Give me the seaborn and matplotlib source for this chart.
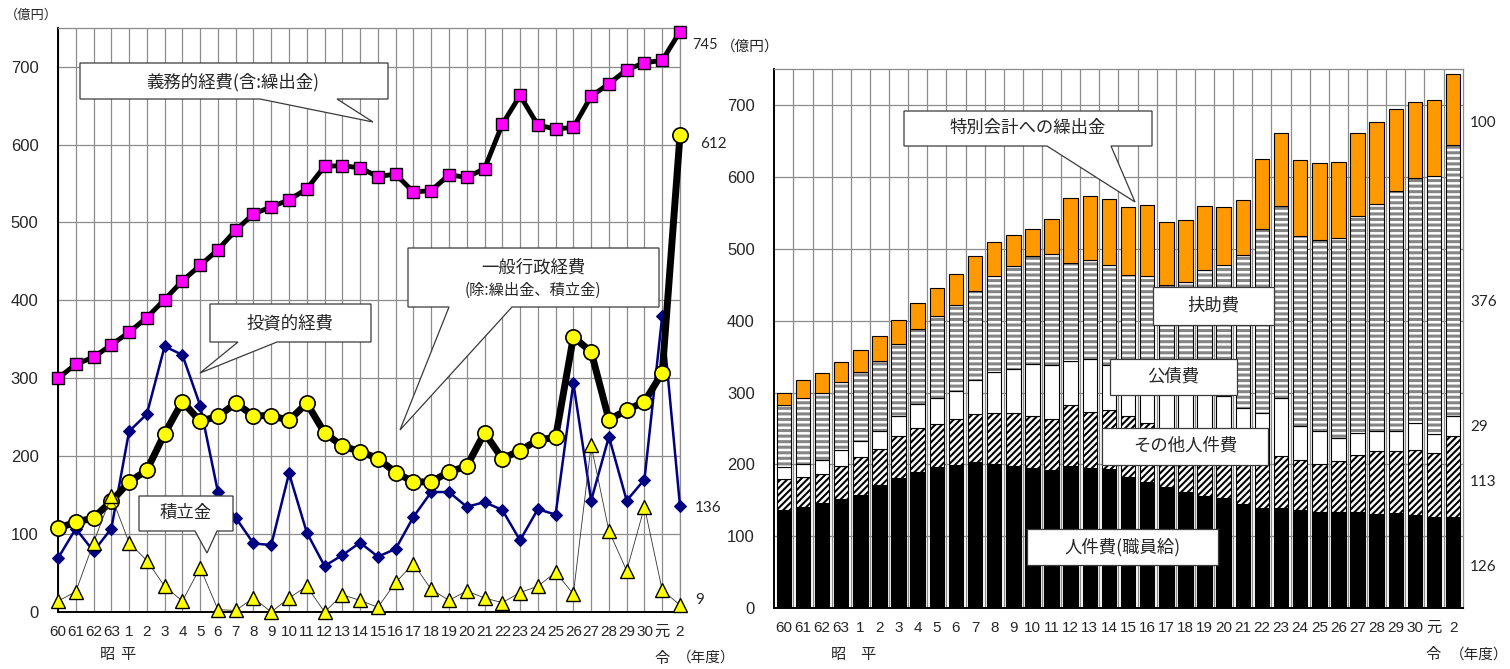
import numpy as np
import pandas as pd
import matplotlib
matplotlib.use("Agg")
import matplotlib.pyplot as plt
import seaborn as sns
from matplotlib.patches import Polygon

# 年度ラベル（昭和60～令和2）
years = ["60", "61", "62", "63"] + [str(i) for i in range(1, 31)] + ["元", "2"]

# 左：性質別歳出の推移（億円）
gimu = [300, 318, 327, 343, 359, 378, 401, 425, 445, 465, 490, 511, 520, 529, 543, 572, 573, 570, 559,
        562, 539, 541, 561, 558, 569, 626, 663, 625, 620, 622, 662, 678, 696, 705, 708, 745]
ippan = [108, 115, 121, 142, 167, 182, 229, 270, 245, 251, 268, 252, 252, 246, 268, 230, 213, 206, 197,
         179, 167, 167, 180, 187, 230, 197, 207, 221, 224, 353, 334, 247, 259, 270, 307, 612]
toushi = [69, 107, 78, 107, 232, 254, 341, 330, 265, 154, 121, 88, 86, 178, 102, 59, 73, 89, 71,
          81, 122, 154, 154, 135, 141, 131, 92, 132, 125, 294, 143, 225, 143, 170, 380, 136]
tsumitate = [14, 26, 89, 149, 89, 66, 33, 14, 57, 3, 2, 18, 0, 18, 33, 0, 22, 15, 6,
             38, 62, 29, 15, 27, 18, 12, 25, 33, 51, 23, 214, 104, 53, 135, 28, 9]

# 右：義務的経費の内訳（億円）
kyuyo = [136, 141, 146, 152, 158, 171, 181, 189, 196, 199, 203, 200, 198, 195, 192, 198, 195, 193, 183,
         176, 169, 162, 156, 153, 145, 139, 139, 136, 133, 133, 133, 131, 132, 129, 126, 126]
sonota = [43, 42, 40, 46, 52, 51, 59, 61, 60, 64, 67, 71, 73, 73, 71, 84, 78, 83, 84,
          81, 78, 80, 80, 78, 75, 74, 72, 70, 68, 71, 80, 87, 87, 91, 90, 113]
kousai = [17, 18, 20, 22, 22, 25, 27, 34, 37, 39, 47, 58, 62, 72, 75, 62, 73, 63, 63,
          65, 68, 66, 64, 64, 59, 59, 82, 47, 45, 32, 31, 28, 27, 37, 26, 29]
fujo = [87, 92, 93, 94, 96, 97, 101, 105, 113, 120, 124, 133, 143, 150, 155, 137, 139, 138, 134,
        140, 135, 146, 171, 182, 213, 256, 267, 265, 267, 279, 302, 317, 335, 341, 360, 376]
kuridashi = [17, 25, 28, 29, 31, 34, 33, 36, 39, 43, 49, 48, 44, 38, 49, 90, 88, 92, 94,
             99, 88, 86, 89, 81, 76, 97, 102, 106, 106, 106, 115, 114, 114, 106, 105, 100]

W, H = 1510, 669
CJK = ["Noto Sans CJK JP", "DejaVu Sans"]
NUM = ["Liberation Sans", "Noto Sans CJK JP", "DejaVu Sans"]
LBL = ["Lato", "Noto Sans CJK JP", "DejaVu Sans"]

sns.set_style("white")
plt.rcParams["font.family"] = NUM


def fx(px):
    return px / W


def fy(py):
    return 1 - py / H


def callout(fig, pts):
    poly = Polygon([(fx(x), fy(y)) for x, y in pts], closed=True, transform=fig.transFigure,
                   facecolor="white", edgecolor="#3a3a3a", lw=0.9, zorder=5)
    fig.add_artist(poly)


def note(fig, x, y, s, size=12.5, family=CJK, ha="center", va="center"):
    fig.text(fx(x), fy(y), s, ha=ha, va=va, fontsize=size, family=family, zorder=6)


df = pd.DataFrame({"idx": np.arange(len(years)), "gimu": gimu, "ippan": ippan,
                   "toushi": toushi, "tsumitate": tsumitate})

fig = plt.figure(figsize=(W / 100, H / 100), dpi=100)
ax1 = fig.add_axes([fx(58), fy(612), 622 / W, 584.3 / H])
ax2 = fig.add_axes([fx(774.3), fy(608), 688.4 / W, 538.7 / H])

grid_c = "#8c8c8c"

# ---- 左グラフ ----
sns.lineplot(data=df, x="idx", y="toushi", ax=ax1, color="#000080", lw=1.8, marker="D", markersize=6.5,
             markeredgecolor="#000080", clip_on=False, zorder=3)
sns.lineplot(data=df, x="idx", y="ippan", ax=ax1, color="black", lw=5, marker="o", markersize=11,
             markerfacecolor="#FFFF00", markeredgecolor="black", markeredgewidth=1.2, clip_on=False, zorder=4)
sns.lineplot(data=df, x="idx", y="tsumitate", ax=ax1, color="#333333", lw=0.6, marker="^", markersize=9.5,
             markerfacecolor="#FFFF00", markeredgecolor="black", markeredgewidth=1.0, clip_on=False, zorder=5)
sns.lineplot(data=df, x="idx", y="gimu", ax=ax1, color="black", lw=3.5, marker="s", markersize=8.5,
             markerfacecolor="#FF00FF", markeredgecolor="black", markeredgewidth=1.0, clip_on=False, zorder=6)

ax1.set_xlim(0, len(years) - 1)
ax1.set_ylim(0, 750)
ax1.set_xticks(np.arange(len(years)))
ax1.set_xticklabels(years)
ax1.set_yticks(np.arange(0, 701, 100))
ax1.grid(True, color=grid_c, lw=0.9)
ax1.set_axisbelow(True)

# ---- 右グラフ（積み上げ棒） ----
xs = np.arange(len(years))
b1 = np.array(kyuyo)
b2 = b1 + np.array(sonota)
b3 = b2 + np.array(kousai)
b4 = b3 + np.array(fujo)
bw = 0.76
common = dict(ax=ax2, width=bw, saturation=1, zorder=3)

sns.barplot(x=xs, y=kyuyo, color="black", edgecolor="black", linewidth=0.8, **common)
with plt.rc_context({"hatch.linewidth": 1.5}):
    sns.barplot(x=xs, y=sonota, bottom=b1, color="white", edgecolor="black", hatch="/////",
                linewidth=0.8, **common)
sns.barplot(x=xs, y=kousai, bottom=b2, color="white", edgecolor="black", linewidth=0.8, **common)
with plt.rc_context({"hatch.linewidth": 2.2}):
    sns.barplot(x=xs, y=fujo, bottom=b3, color="white", edgecolor="#858585", hatch="---",
                linewidth=0, **common)
sns.barplot(x=xs, y=fujo, bottom=b3, color="black", fill=False, linewidth=0.8, **common)
sns.barplot(x=xs, y=kuridashi, bottom=b4, color="#FF9900", edgecolor="black", linewidth=0.8, **common)

ax2.set_xlim(-0.5, len(years) - 0.5)
ax2.set_ylim(0, 750)
ax2.set_xticks(xs)
ax2.set_xticklabels(years)
ax2.set_xticks(xs[:-1] + 0.5, minor=True)
ax2.set_yticks(np.arange(0, 701, 100))
ax2.grid(True, axis="y", color=grid_c, lw=0.9)
ax2.grid(True, axis="x", which="minor", color=grid_c, lw=0.9)
ax2.set_axisbelow(True)

for ax in (ax1, ax2):
    ax.set_xlabel("")
    ax.set_ylabel("")
    ax.tick_params(axis="x", which="both", length=0, pad=9, labelsize=11)
    ax.tick_params(axis="y", length=4, pad=10, labelsize=12)
    for s in ("left", "bottom"):
        ax.spines[s].set_color("black")
        ax.spines[s].set_linewidth(1.4)
    for s in ("top", "right"):
        ax.spines[s].set_color(grid_c)
        ax.spines[s].set_linewidth(0.9)

# ---- 軸まわりの文字 ----
note(fig, 5, 15, "（億円）", size=9.5, ha="left")
note(fig, 721, 47, "（億円）", size=10.5, ha="left")
for x0, nen in ((107, "昭"), (128, "平"), (838, "昭"), (868, "平")):
    note(fig, x0, 655, nen, size=11)
note(fig, 662, 658, "令", size=11)
note(fig, 1433, 655, "令", size=11)
note(fig, 735, 658, "（年度）", size=10.5, ha="right")
note(fig, 1508, 655, "（年度）", size=10.5, ha="right")

# 最終年度の値
note(fig, 692, 45, "745", size=10.5, family=LBL, ha="left")
note(fig, 700, 144, "612", size=11, family=LBL, ha="left")
note(fig, 695, 508, "136", size=11, family=LBL, ha="left")
note(fig, 695, 600, "9", size=11, family=LBL, ha="left")
for yv, s in ((123, "100"), (302, "376"), (427, "29"), (482, "113"), (567, "126")):
    note(fig, 1470, yv, s, size=11, family=LBL, ha="left")

# ---- 吹き出し（左） ----
callout(fig, [(80, 63), (388, 63), (388, 99), (337, 99), (373, 122), (260, 99), (80, 99)])
note(fig, 233, 82, "義務的経費(含:繰出金)")
callout(fig, [(210, 304), (371, 304), (371, 342), (277, 342), (200, 373), (238, 342), (210, 342)])
note(fig, 290, 323, "投資的経費")
callout(fig, [(408, 248), (659, 248), (659, 307), (512, 307), (400, 430), (449, 307), (408, 307)])
note(fig, 533, 268, "一般行政経費", size=12.5)
note(fig, 533, 290, "(除:繰出金、積立金)", size=11)
callout(fig, [(139, 496), (233, 496), (233, 531), (217, 531), (207, 553), (195, 531), (139, 531)])
note(fig, 186, 513, "積立金")

# ---- 吹き出し（右） ----
callout(fig, [(904, 111), (1152, 111), (1152, 146), (1111, 146), (1135, 202), (1047, 146), (904, 146)])
note(fig, 1028, 128, "特別会計への繰出金")
callout(fig, [(1153, 287), (1274, 287), (1274, 325), (1153, 325)])
note(fig, 1213, 306, "扶助費")
callout(fig, [(1110, 359), (1237, 359), (1237, 395), (1110, 395)])
note(fig, 1173, 377, "公債費")
callout(fig, [(1102, 428), (1268, 428), (1268, 465), (1102, 465)])
note(fig, 1185, 446, "その他人件費")
callout(fig, [(1027, 529), (1218, 529), (1218, 565), (1027, 565)])
note(fig, 1122, 547, "人件費(職員給)")

fig.savefig("out.png", dpi=100)
